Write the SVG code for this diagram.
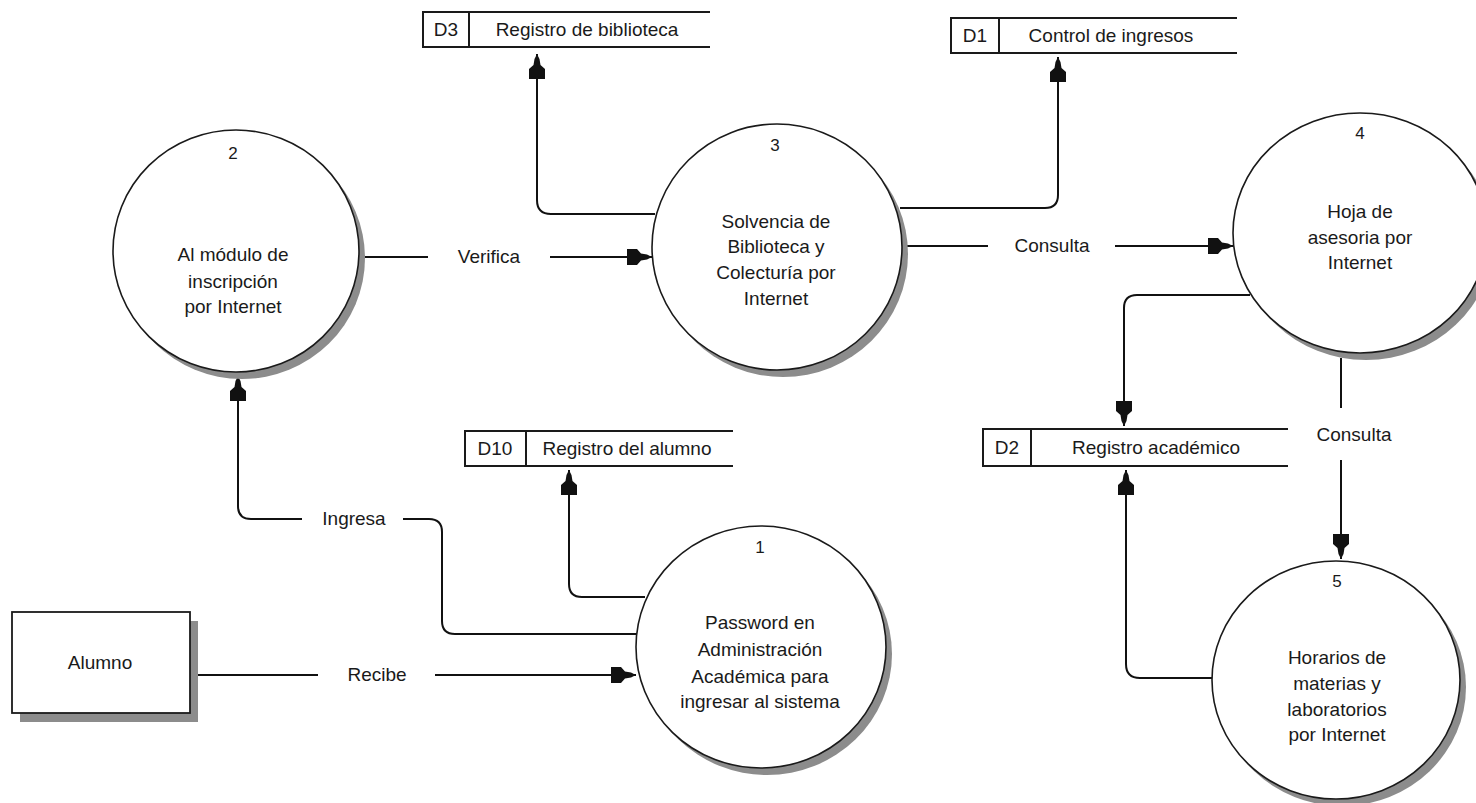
<svg xmlns="http://www.w3.org/2000/svg" width="1476" height="803" viewBox="0 0 1476 803">
<style>
  text { font-family: "Liberation Sans", Arial, sans-serif; font-size: 19px; fill: #1a1a1a; text-anchor: middle; }
  .num { font-size: 17px; }
  .shadow { fill: #8c8c8c; stroke: none; }
  .proc { fill: #ffffff; stroke: #1a1a1a; stroke-width: 1.6; }
  .box { fill: #ffffff; stroke: #1a1a1a; stroke-width: 1.8; }
  .store { fill: none; stroke: #1a1a1a; stroke-width: 2; }
  .flow { fill: none; stroke: #111; stroke-width: 2; }
  .arrow { marker-end: url(#ah); }
</style>
<defs>
  <marker id="ah" markerUnits="userSpaceOnUse" markerWidth="30" markerHeight="20" refX="26" refY="10" orient="auto" viewBox="0 0 30 20">
    <path d="M26,10 L21,7.5 L15,6.5 L11,2 L1,2 L1,18 L11,18 L15,13.5 L21,12.5 Z" fill="#111"/>
  </marker>
</defs>
<rect width="1476" height="803" fill="#ffffff"/>

<g id="connectors">
  <path class="flow arrow" d="M655,214 H551 Q537,214 537,200 V54"/>
  <path class="flow arrow" d="M900,208 H1045 Q1058,208 1058,195 V57"/>
  <path class="flow" d="M358,257 H428"/>
  <path class="flow arrow" d="M550,257 H652"/>
  <path class="flow" d="M902,246 H988"/>
  <path class="flow arrow" d="M1115,246 H1233"/>
  <path class="flow arrow" d="M1250,295 H1137 Q1124,295 1124,308 V426"/>
  <path class="flow" d="M1341,358 V408"/>
  <path class="flow arrow" d="M1341,460 V559"/>
  <path class="flow arrow" d="M1212,678 H1140 Q1126,678 1126,664 V470"/>
  <path class="flow arrow" d="M645,597 H582 Q569,597 569,584 V470"/>
  <path class="flow" d="M637,634 H455 Q442,634 442,621 V532 Q442,519 429,519 H403"/>
  <path class="flow arrow" d="M302,519 H251 Q238,519 238,506 V376"/>
  <path class="flow" d="M190,675 H318"/>
  <path class="flow arrow" d="M435,675 H636"/>
  <text x="489" y="263">Verifica</text>
  <text x="1052" y="252">Consulta</text>
  <text x="1354" y="441">Consulta</text>
  <text x="354" y="525">Ingresa</text>
  <text x="377" y="681">Recibe</text>
</g>

<g id="alumno">
  <rect class="shadow" x="20" y="621" width="178" height="101"/>
  <rect class="box" x="12" y="612" width="178" height="101"/>
  <text x="100" y="669">Alumno</text>
</g>

<g id="p1">
  <ellipse class="shadow" cx="767" cy="654" rx="125" ry="121"/>
  <ellipse class="proc" cx="761" cy="647" rx="125" ry="121"/>
  <text class="num" x="760" y="553">1</text>
  <text x="760" y="629">Password en</text>
  <text x="760" y="656">Administración</text>
  <text x="760" y="683">Académica para</text>
  <text x="760" y="708">ingresar al sistema</text>
</g>

<g id="p2">
  <ellipse class="shadow" cx="242" cy="258" rx="123" ry="121"/>
  <ellipse class="proc" cx="236" cy="251" rx="123" ry="121"/>
  <text class="num" x="233" y="159">2</text>
  <text x="233" y="261">Al módulo de</text>
  <text x="233" y="288">inscripción</text>
  <text x="233" y="313">por Internet</text>
</g>

<g id="p3">
  <ellipse class="shadow" cx="783" cy="254" rx="125" ry="123"/>
  <ellipse class="proc" cx="777" cy="247" rx="125" ry="123"/>
  <text class="num" x="775" y="151">3</text>
  <text x="776" y="228">Solvencia de</text>
  <text x="776" y="253">Biblioteca y</text>
  <text x="776" y="279">Colecturía por</text>
  <text x="776" y="305">Internet</text>
</g>

<g id="p4">
  <ellipse class="shadow" cx="1366" cy="240" rx="127" ry="120"/>
  <ellipse class="proc" cx="1360" cy="233" rx="127" ry="120"/>
  <text class="num" x="1360" y="139">4</text>
  <text x="1360" y="218">Hoja de</text>
  <text x="1360" y="244">asesoria por</text>
  <text x="1360" y="269">Internet</text>
</g>

<g id="p5">
  <ellipse class="shadow" cx="1342" cy="687" rx="124" ry="119"/>
  <ellipse class="proc" cx="1336" cy="680" rx="124" ry="119"/>
  <text class="num" x="1337" y="587">5</text>
  <text x="1337" y="664">Horarios de</text>
  <text x="1337" y="690">materias y</text>
  <text x="1337" y="716">laboratorios</text>
  <text x="1337" y="741">por Internet</text>
</g>

<g id="d3">
  <path class="store" d="M710,12 H423 V47 H710 M469,12 V47"/>
  <text x="446" y="36">D3</text>
  <text x="587" y="36">Registro de biblioteca</text>
</g>

<g id="d1">
  <path class="store" d="M1237,18 H951 V53 H1237 M999,18 V53"/>
  <text x="975" y="42">D1</text>
  <text x="1111" y="42">Control de ingresos</text>
</g>

<g id="d10">
  <path class="store" d="M733,431 H465 V466 H733 M526,431 V466"/>
  <text x="495" y="455">D10</text>
  <text x="627" y="455">Registro del alumno</text>
</g>

<g id="d2">
  <path class="store" d="M1288,429 H983 V466 H1288 M1031,429 V466"/>
  <text x="1007" y="454">D2</text>
  <text x="1156" y="454">Registro académico</text>
</g>
</svg>
